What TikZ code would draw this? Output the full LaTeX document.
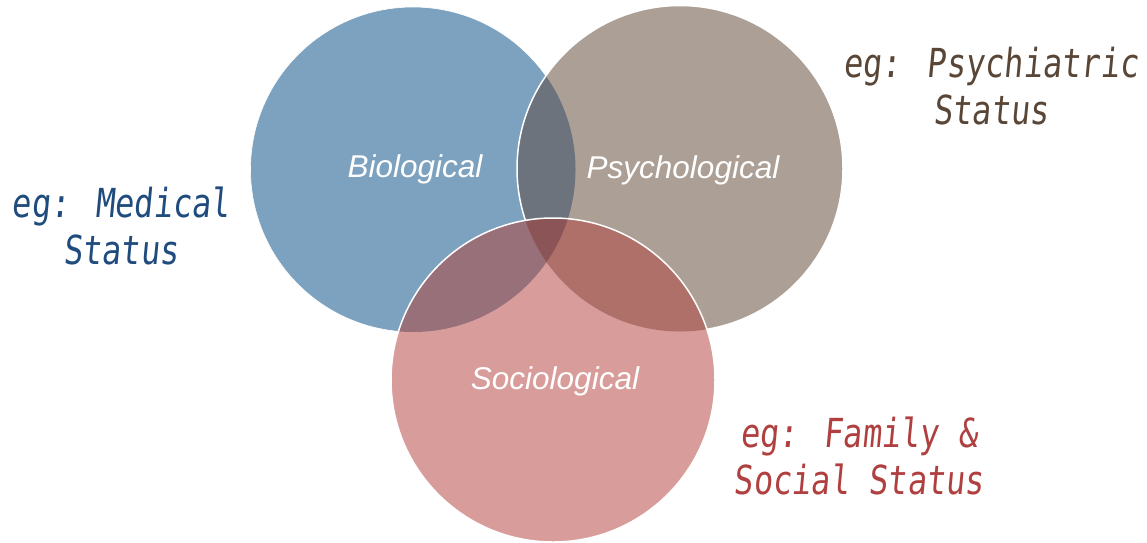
\documentclass[tikz,border=0pt]{standalone}
\usepackage{graphicx}
\usepackage{fontspec}
\setmainfont{Liberation Sans}
\newfontfamily\handfont{DejaVu Sans Mono}[FakeSlant=0.12]
\usepackage{tikz}
\usetikzlibrary{positioning}
\definecolor{bioblue}{RGB}{125,162,191}
\definecolor{psybrown}{RGB}{171,159,150}
\definecolor{socpink}{RGB}{216,157,155}
\definecolor{biopsy}{RGB}{108,115,124}
\definecolor{biosoc}{RGB}{152,112,121}
\definecolor{psysoc}{RGB}{175,112,106}
\definecolor{allthree}{RGB}{139,85,88}
\definecolor{medblue}{RGB}{31,75,125}
\definecolor{psytext}{RGB}{90,70,55}
\definecolor{famred}{RGB}{176,64,64}
\newcommand{\tall}[1]{\scalebox{1}[1.25]{#1}}
\tikzstyle{setname} = [text=white, font=\fontsize{31.5}{36}\selectfont\itshape]
\tikzstyle{example} = [align=center, font=\handfont\fontsize{32}{47}\selectfont]
\tikzstyle{rim} = [draw=white, line width=1.5pt]

\begin{document}
\begin{tikzpicture}[x=1pt, y=-1pt]
\useasboundingbox (0,0) rectangle (1147,542);
\coordinate (bio) at (413,169.5);
\coordinate (psy) at (680,168.5);
\coordinate (soc) at (553,380);
% the three sets
\fill [bioblue] (bio) circle [radius=162.5pt];
\draw [draw=white, line width=0.6pt] (bio) circle [radius=162.5pt];
\fill [psybrown] (psy) circle [radius=163pt];
\begin{scope}
\clip (psy) circle [radius=163pt];
\fill [biopsy] (bio) circle [radius=162.5pt];
\end{scope}
\draw [rim] (psy) circle [radius=163pt];
\fill [socpink] (soc) circle [radius=162pt];
\begin{scope}
\clip (soc) circle [radius=162pt];
\fill [biosoc] (bio) circle [radius=162.5pt];
\fill [psysoc] (psy) circle [radius=163pt];
\clip (bio) circle [radius=162.5pt];
\fill [allthree] (psy) circle [radius=163pt];
\end{scope}
\draw [rim] (soc) circle [radius=162pt];
% labels
\node (biological) [setname] at (415,169) {Biological};
\node (psychological) [setname] at (683,170) {Psychological};
\node (sociological) [setname] at (555,381) {Sociological};
\node (medical) [example, text=medblue] at (121,226) {\tall{eg: Medical}\\\tall{Status}};
\node (psychiatric) [example, text=psytext] at (991,86) {\tall{eg: Psychiatric}\\\tall{Status}};
\node (family) [example, text=famred] at (859,456) {\tall{eg: Family \&}\\\tall{Social Status}};
\end{tikzpicture}
\end{document}
